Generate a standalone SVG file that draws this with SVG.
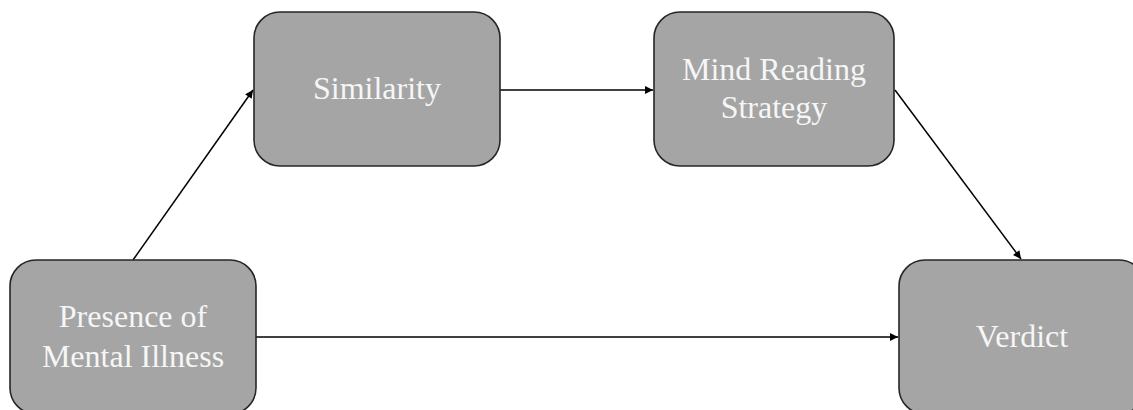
<svg xmlns="http://www.w3.org/2000/svg" width="1133" height="410" viewBox="0 0 1133 410">
<defs>
<style>
.box{fill:#a5a5a5;stroke:#262626;stroke-width:1.6}
.lbl{font-family:"Liberation Serif","Times New Roman",serif;font-size:32px;fill:#f6f6f6;text-anchor:middle}
.edge{stroke:#000;stroke-width:1.5;fill:none;marker-end:url(#ah)}
</style>
<marker id="ah" viewBox="0 0 10 10" refX="10" refY="5" markerWidth="9" markerHeight="8" markerUnits="userSpaceOnUse" orient="auto">
<path d="M0,0 L10,5 L0,10 Z" fill="#000"/>
</marker>
</defs>
<rect width="1133" height="410" fill="#fff"/>
<g id="connectors">
<line class="edge" x1="133" y1="260" x2="253" y2="90"/>
<line class="edge" x1="500" y1="90" x2="653" y2="90"/>
<line class="edge" x1="895" y1="90" x2="1021" y2="259"/>
<line class="edge" x1="256" y1="337" x2="898" y2="337"/>
</g>
<g id="similarity">
<rect class="box" x="254" y="12" width="246" height="154" rx="26"/>
<text class="lbl" x="377" y="99">Similarity</text>
</g>
<g id="mind-reading">
<rect class="box" x="654" y="12" width="240" height="154" rx="26"/>
<text class="lbl" x="774" y="80">Mind Reading</text>
<text class="lbl" x="774" y="118">Strategy</text>
</g>
<g id="presence">
<rect class="box" x="10" y="260" width="246" height="154" rx="26"/>
<text class="lbl" x="133" y="327">Presence of</text>
<text class="lbl" x="133" y="367">Mental Illness</text>
</g>
<g id="verdict">
<rect class="box" x="899" y="260" width="246" height="154" rx="26"/>
<text class="lbl" x="1022" y="347">Verdict</text>
</g>
</svg>
